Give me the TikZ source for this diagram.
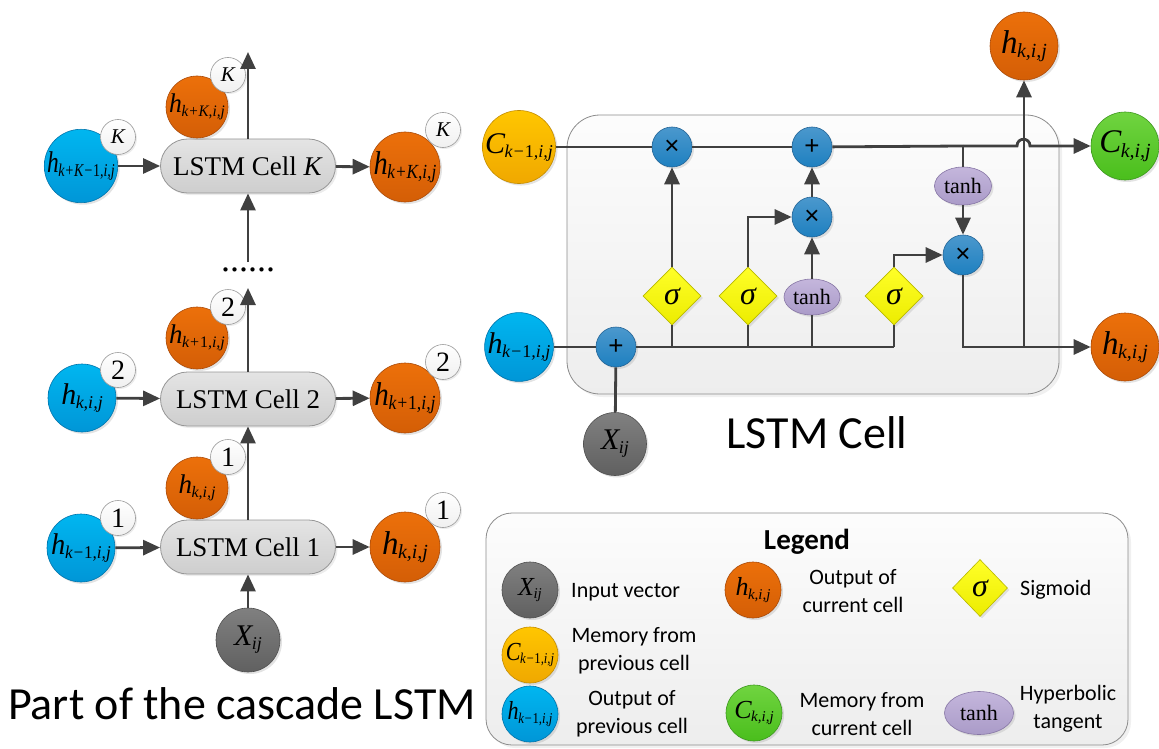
\documentclass[tikz,border=0pt]{standalone}
\usepackage{fontspec}
\usepackage{graphicx}
\setmainfont{Liberation Serif}
\newfontfamily\calfont{Carlito}
\newfontfamily\arialfont{Liberation Sans}
\usetikzlibrary{arrows.meta,shapes.geometric,shadows,shadings}

\definecolor{wirecol}{RGB}{64,64,64}
\definecolor{blueT}{RGB}{0,182,240}\definecolor{blueB}{RGB}{0,150,215}\definecolor{blueD}{RGB}{0,115,170}
\definecolor{oraT}{RGB}{236,112,10}\definecolor{oraB}{RGB}{212,94,6}\definecolor{oraD}{RGB}{170,75,10}
\definecolor{golT}{RGB}{255,198,0}\definecolor{golB}{RGB}{240,168,0}\definecolor{golD}{RGB}{195,140,0}
\definecolor{grnT}{RGB}{112,212,64}\definecolor{grnB}{RGB}{74,190,28}\definecolor{grnD}{RGB}{60,150,30}
\definecolor{gryT}{RGB}{128,128,128}\definecolor{gryB}{RGB}{96,96,96}\definecolor{gryD}{RGB}{80,80,80}
\definecolor{opT}{RGB}{75,152,205}\definecolor{opB}{RGB}{30,128,192}\definecolor{opD}{RGB}{35,100,150}
\definecolor{yelT}{RGB}{255,255,40}\definecolor{yelB}{RGB}{236,236,0}\definecolor{yelD}{RGB}{185,185,0}
\definecolor{lavT}{RGB}{196,182,220}\definecolor{lavB}{RGB}{170,155,200}\definecolor{lavD}{RGB}{135,118,165}
\definecolor{celT}{RGB}{228,228,228}\definecolor{celB}{RGB}{206,206,206}\definecolor{celD}{RGB}{150,150,150}

% italic variable with a subscript, in the serif face (three sizes)
\newcommand\hv[2]{{\fontsize{30}{30}\selectfont\itshape #1}\kern-0.5pt\raisebox{-4pt}{\fontsize{18}{18}\selectfont\itshape #2}}
\newcommand\hvL[2]{{\fontsize{33}{33}\selectfont\itshape #1}\kern-0.5pt\raisebox{-4.5pt}{\fontsize{20}{20}\selectfont\itshape #2}}
\newcommand\hvS[2]{{\fontsize{27}{27}\selectfont\itshape #1}\kern-0.5pt\raisebox{-3.5pt}{\fontsize{16}{16}\selectfont\itshape #2}}
\newcommand\hvs[2]{{\fontsize{26}{26}\selectfont\itshape #1}\kern-0.5pt\raisebox{-3.5pt}{\fontsize{15}{15}\selectfont\itshape #2}}

\tikzset{
  wire/.style={line width=2.8pt, draw=wirecol},
  arr/.style={wire, -{Triangle[length=17pt,width=15pt]}},
  ball/.style={circle, inner sep=0pt, drop shadow={opacity=0.22, shadow xshift=2pt, shadow yshift=-2pt}},
  bluef/.style={ball, top color=blueT, bottom color=blueB, draw=blueD, line width=0.6pt},
  oraf/.style={ball, top color=oraT, bottom color=oraB, draw=oraD, line width=0.6pt},
  golf/.style={ball, top color=golT, bottom color=golB, draw=golD, line width=0.6pt},
  grnf/.style={ball, top color=grnT, bottom color=grnB, draw=grnD, line width=0.6pt},
  gryf/.style={ball, top color=gryT, bottom color=gryB, draw=gryD, line width=0.6pt},
  opnode/.style={ball, top color=opT, bottom color=opB, draw=opD, line width=0.6pt,
    minimum size=40pt, font=\arialfont\fontsize{26}{26}\selectfont},
  sig/.style={diamond, aspect=1, inner sep=0pt, minimum width=58pt, minimum height=58pt,
    top color=yelT, bottom color=yelB, draw=yelD, line width=0.6pt,
    drop shadow={opacity=0.2, shadow xshift=2pt, shadow yshift=-2pt},
    font=\fontsize{32}{32}\selectfont\itshape},
  tanhnode/.style={ellipse, inner sep=0pt, top color=lavT, bottom color=lavB, draw=lavD, line width=0.6pt,
    drop shadow={opacity=0.2, shadow xshift=2pt, shadow yshift=-2pt},
    font=\fontsize{22}{22}\selectfont},
  tagnode/.style={circle, inner sep=0pt, minimum size=35pt, top color=white, bottom color=black!6,
    draw=black!40, line width=0.6pt, drop shadow={opacity=0.15, shadow xshift=1.5pt, shadow yshift=-1.5pt}},
  tagK/.style={tagnode, font=\fontsize{21}{21}\selectfont\itshape},
  tagN/.style={tagnode, font=\fontsize{28}{28}\selectfont},
  cell/.style={rectangle, rounded corners=27pt, minimum width=175pt, minimum height=54pt, inner sep=0pt,
    top color=celT, bottom color=celB, draw=celD, line width=0.8pt,
    drop shadow={opacity=0.15, shadow xshift=2pt, shadow yshift=-2pt},
    font=\fontsize{27}{27}\selectfont},
  panel/.style={rounded corners=33pt, top color=black!1, bottom color=black!7, draw=black!45, line width=0.8pt,
    drop shadow={opacity=0.12, shadow xshift=3pt, shadow yshift=-3pt}},
  sans/.style={font=\calfont\fontsize{22}{28}\selectfont, align=center, inner sep=0pt},
}

\begin{document}
\begin{tikzpicture}[x=1pt,y=-1pt]
\useasboundingbox (0,0) rectangle (1159,749);

%% ---------- cascade of cells ----------
\node[cell] (cK) at (248,166) {LSTM Cell \textit{K}};
\node[cell] (c2) at (248,399) {LSTM Cell 2};
\node[cell] (c1) at (248,547) {LSTM Cell 1};

% cell K
\node[bluef, minimum size=68pt] (bK) at (81,166) {\scalebox{0.78}[1]{\hv{h}{k+K−\textup{1},i,j}}};
\node[tagK] (bKt) at (118,137) {K};
\node[oraf, minimum size=62pt] (tK) at (197,107) {\scalebox{0.95}[1]{\hvS{h}{k+K,i,j}}};
\node[tagK] (tKt) at (228,75) {K};
\node[oraf, minimum size=70pt] (oK) at (405,167) {\scalebox{0.86}[1]{\hvL{h}{k+K,i,j}}};
\node[tagK] (oKt) at (443,130) {K};
\coordinate (topK) at (248,52);
\node[font=\fontsize{36}{36}\selectfont, inner sep=0pt] (dots) at (248,270) {......};
\coordinate (dK) at (248,262);

% cell 2
\node[bluef, minimum size=68pt] (b2) at (82,398) {\hv{h}{k,i,j}};
\node[tagN] (b2t) at (118,370) {2};
\node[oraf, minimum size=62pt] (t2) at (197,338) {\hvS{h}{k+\textup{1},i,j}};
\node[tagN] (t2t) at (228,307) {2};
\node[oraf, minimum size=70pt] (o2) at (405,398) {\scalebox{0.88}[1]{\hvL{h}{k+\textup{1},i,j}}};
\node[tagN] (o2t) at (443,362) {2};
\coordinate (top2) at (248,288);

% cell 1
\node[bluef, minimum size=68pt] (b1) at (81,548) {\scalebox{0.95}[1]{\hv{h}{k−\textup{1},i,j}}};
\node[tagN] (b1t) at (118,518) {1};
\node[oraf, minimum size=62pt] (t1) at (197,488) {\hvS{h}{k,i,j}};
\node[tagN] (t1t) at (228,457) {1};
\node[oraf, minimum size=70pt] (o1) at (405,547) {\hvL{h}{k,i,j}};
\node[tagN] (o1t) at (443,510) {1};
\node[gryf, minimum size=64pt] (x1) at (248,640) {\hv{X}{ij}};

\draw[arr] (bK) -- (cK);
\draw[arr] (cK) -- (oK);
\draw[arr] (cK.north) -- (topK);
\draw[arr] (dK) -- (cK.south);
\draw[arr] (b2) -- (c2);
\draw[arr] (c2) -- (o2);
\draw[arr] (c2.north) -- (top2);
\draw[arr] (b1) -- (c1);
\draw[arr] (c1) -- (o1);
\draw[arr] (c1.north) -- (c2.south);
\draw[arr] (x1) -- (c1.south);

\node[font=\calfont\fontsize{46}{46}\selectfont, inner sep=0pt] (capL) at (242,704) {Part of the cascade LSTM};

%% ---------- inside one cell ----------
\draw[panel] (567,115) rectangle (1059,394);

\node[golf, minimum size=68pt] (Cp) at (519,147) {\hv{C}{k−\textup{1},i,j}};
\node[bluef, minimum size=68pt] (hp) at (519,347) {\hv{h}{k−\textup{1},i,j}};
\node[gryf, minimum size=63pt] (xin) at (615,444) {\hv{X}{ij}};
\node[oraf, minimum size=68pt] (hup) at (1024,46) {\hvL{h}{k,i,j}};
\node[grnf, minimum size=68pt] (Cn) at (1125,146) {\hvL{C}{k,i,j}};
\node[oraf, minimum size=68pt] (hn) at (1125,347) {\hvL{h}{k,i,j}};

\node[opnode] (m1) at (672,147) {×};
\node[opnode] (p1) at (812,147) {+};
\node[opnode] (m2) at (812,217) {×};
\node[opnode] (m3) at (963,255) {×};
\node[opnode] (p0) at (616,347) {+};

\node[sig] (s1) at (672,296) {σ};
\node[sig] (s2) at (748,296) {σ};
\node[tanhnode, minimum width=56pt, minimum height=36pt] (th1) at (812,297) {tanh};
\node[sig] (s3) at (894,296) {σ};
\node[tanhnode, minimum width=57pt, minimum height=38pt] (th2) at (963,186) {tanh};

\coordinate (jt) at (963,146);
\coordinate (hopL) at (1017,146);
\coordinate (hopR) at (1030,146);
\coordinate (b1j) at (672,347);
\coordinate (b2j) at (748,347);
\coordinate (btj) at (812,347);
\coordinate (b3j) at (894,347);
\coordinate (k2) at (748,217);
\coordinate (k3) at (894,255);
\coordinate (c3) at (963,347);
\coordinate (jh) at (1024,347);

% memory line with a hop over the output riser
\draw[wire] (Cp) -- (m1);
\draw[wire] (m1) -- (p1);
\draw[wire] (p1) -- (jt);
\draw[arr] (jt) -- (hopL) .. controls (1017,137) and (1030,137) .. (hopR) -- (Cn);
\draw[wire] (jt) -- (th2);
\draw[arr] (th2) -- (m3);

% input line and gates
\draw[wire] (hp) -- (p0);
\draw[wire] (xin) -- (p0);
\draw[wire] (p0) -- (b3j);
\draw[wire] (b1j) -- (s1);
\draw[arr] (s1) -- (m1);
\draw[wire] (b2j) -- (s2);
\draw[arr] (s2.north) -- (k2) -- (m2);
\draw[wire] (btj) -- (th1);
\draw[arr] (th1) -- (m2);
\draw[arr] (m2) -- (p1);
\draw[wire] (b3j) -- (s3);
\draw[arr] (s3.north) -- (k3) -- (m3);

% output
\draw[arr] (m3) -- (c3) -- (hn);
\draw[arr] (jh) -- (hup);

\node[font=\calfont\fontsize{46}{46}\selectfont, inner sep=0pt] (capR) at (817,433) {LSTM Cell};

%% ---------- legend ----------
\draw[panel, rounded corners=26pt] (486,513) rectangle (1128,745);
\node[font=\calfont\bfseries\fontsize{29}{29}\selectfont, inner sep=0pt] (lgT) at (807,542) {Legend};

\node[gryf, minimum size=56pt] (lX) at (530,590) {\hvs{X}{ij}};
\node[sans, anchor=west] (lXt) at (571,592) {Input vector};
\node[oraf, minimum size=56pt] (lH) at (753,590) {\hvs{h}{k,i,j}};
\node[sans] (lHt) at (853,591) {Output of\\current cell};
\node[sig, minimum width=55pt, minimum height=57pt] (lS) at (980,588) {σ};
\node[sans, anchor=west] (lSt) at (1020,590) {Sigmoid};

\node[golf, minimum size=56pt] (lC) at (530,655) {\scalebox{0.85}[1]{\hvs{C}{k−\textup{1},i,j}}};
\node[sans] (lCt) at (634,651) {Memory from\\previous cell};

\node[bluef, minimum size=56pt] (lP) at (530,714) {\scalebox{0.85}[1]{\hvs{h}{k−\textup{1},i,j}}};
\node[sans] (lPt) at (632,714) {Output of\\previous cell};
\node[grnf, minimum size=56pt] (lN) at (754,713) {\hvs{C}{k,i,j}};
\node[sans] (lNt) at (862,714) {Memory from\\current cell};
\node[tanhnode, minimum width=69pt, minimum height=43pt] (lT) at (979,713) {tanh};
\node[sans] (lTt) at (1068,709) {Hyperbolic\\tangent};
\end{tikzpicture}
\end{document}
